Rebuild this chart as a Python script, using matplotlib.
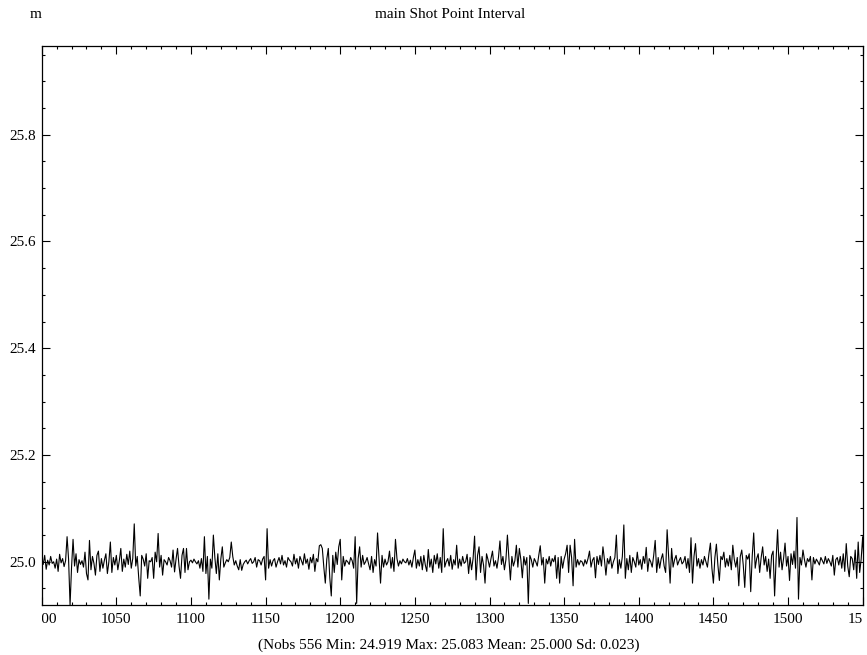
import numpy as np
import matplotlib
matplotlib.use('Agg')
import matplotlib.pyplot as plt
from matplotlib.ticker import MultipleLocator
from matplotlib.transforms import Bbox, TransformedBbox

plt.rcParams['font.family'] = ['Liberation Serif', 'DejaVu Serif']

# shot point numbers and interval deviation from 25 m (in mm)
shot_start = 1000
dev_mm = [
    8, -5, 12, -14, 3, -6, 10, -3, 0, -12, 5, -18, 14, -2, 6, -9, 2, 47, 5, -81,
    -10, 42, -8, 15, -20, 4, -5, 2, -10, 18, -22, -34, 40, -15, 10, -3, -25, 12, 20, -18,
    6, -12, 3, 15, -22, 0, 37, -20, 8, -6, 12, -15, 2, 25, -18, 5, -10, 14, -5, 20,
    -12, 6, 71, -8, 10, -30, -64, 12, 5, -8, 15, -31, 2, 0, 8, -31, 18, 0, 53, -10,
    12, -25, 4, 0, -6, 8, 2, -10, 22, -19, 5, 25, -8, -31, 12, 25, -20, 25, -15, 0,
    3, -2, 5, 0, -4, 2, -12, 6, -18, 47, -22, 10, -70, 5, -12, 50, 8, -22, 15, -34,
    5, 28, -10, -2, 4, 0, 8, 37, 10, -6, 2, -8, -15, 4, -16, -5, 0, 3, -4, 2,
    6, -3, 0, 8, -10, 4, 2, -6, 5, 10, -34, 62, -12, 4, -8, 2, 6, -10, 0, 8,
    -4, 12, -6, 2, -10, 8, 3, 0, -8, 14, -4, 6, -12, 10, 2, -6, 15, -3, 5, -14,
    8, -2, 14, -18, 6, 0, 30, 32, 25, -10, -40, 5, 25, -30, -64, 12, -20, 18, -5, 28,
    42, -34, 10, -8, 3, 0, -5, 8, 2, -12, 47, -78, 6, 28, -10, 12, -5, 0, 8, -4,
    -15, 10, -20, 4, -8, 54, 6, -40, 12, -10, 5, -6, 0, 20, -12, 8, -18, 42, 6, -8,
    2, -4, 5, 0, -2, 6, -6, 3, -10, 8, 22, -12, 4, -8, 10, -15, 12, -6, -18, 23,
    -10, 5, -20, 12, -4, 15, -12, 8, -20, 62, -10, 0, 6, -8, 12, -14, 4, -6, 31, -12,
    5, -8, 10, -3, 0, 14, -22, 8, -15, 6, 48, -34, 12, 28, -20, 10, -6, -40, 15, 4,
    -10, 6, 20, -8, 2, -12, 8, 39, -5, 10, -15, 4, 50, 6, -34, 10, -8, 2, 31, -10,
    25, 4, -30, 10, -6, 8, -78, 12, 4, -10, 6, 0, -8, 12, 30, -6, 8, -40, 5, -4,
    10, -8, 6, 0, 12, -31, 8, -40, 10, -12, 5, 15, 31, -20, 31, 8, -45, 42, -10, 4,
    -6, 2, 0, -8, 4, -4, 6, 20, -10, 3, 8, -30, 10, -5, 12, -8, 28, 4, -25, 6,
    -4, 10, -12, 0, 8, 50, -22, 4, -12, 10, 69, -31, 6, -15, 12, -20, 8, 0, -10, 18,
    -6, 4, -14, 10, -3, 27, -18, 6, 0, -10, 12, 40, -20, 8, -12, 5, 15, -8, -20, 60,
    10, -40, 25, -10, 4, 12, -6, 2, 8, -4, 0, 10, -12, 6, -20, 45, -40, 10, 34, -8,
    6, -12, 4, -6, 10, 0, -10, 15, 35, -12, -40, 8, 33, -6, -35, 10, 4, 18, -10, 6,
    -8, 12, -15, 31, 4, -10, 8, -45, 10, 22, -6, -48, 12, 5, 15, -56, 10, 54, -12, 6,
    15, -20, 8, 28, -6, 10, -18, 5, -31, 12, 20, -64, 4, 60, -10, 18, -15, 6, 35, -8,
    10, -35, 15, -5, 20, -12, 83, -70, 8, -6, 22, 4, -10, 6, 0, 10, -34, 8, -4, 5,
    0, -6, 8, 2, -4, 10, -3, 6, 0, -8, 12, -25, 4, 8, -6, 10, -12, 15, -18, 34,
    -8, -28, 10, 6, -15, 22, -31, 37, -20, 5, 47, -10, 18, -14, 6, 0,
]
nominal = 25.0
stats_text = '(Nobs 556 Min: 24.919 Max: 25.083 Mean: 25.000 Sd: 0.023)'
yticks = [25.0, 25.2, 25.4, 25.6, 25.8]

shot = shot_start + np.arange(len(dev_mm))
interval = nominal + np.array(dev_mm) / 1000.0

fig = plt.figure(figsize=(8.67, 6.55), dpi=100)
ax = fig.add_axes([0.0481, 0.0763, 0.9469, 0.8542])
ax.plot(shot, interval, color='black', lw=0.8)

ax.set_xlim(1000, 1550)
ax.set_ylim(24.919, 25.967)
ax.set_xticks(np.arange(1000, 1551, 50))
ax.set_yticks(yticks)
ax.set_yticklabels(['%.1f' % v for v in yticks])
ax.xaxis.set_minor_locator(MultipleLocator(10))
ax.yaxis.set_minor_locator(MultipleLocator(0.05))
ax.tick_params(which='both', direction='in', top=True, right=True, width=0.8,
               labelsize=11, colors='black')
ax.tick_params(which='major', length=5.5)
ax.tick_params(which='minor', length=2.5)
ax.tick_params(axis='x', pad=6)
ax.tick_params(axis='y', pad=4)
for sp in ax.spines.values():
    sp.set_linewidth(0.9)

# tick labels at the ends get cut at the frame edges
clip = TransformedBbox(Bbox([[0, -1], [1, 0]]), ax.transAxes)
for t in ax.xaxis.get_major_ticks():
    t.label1.set_clip_box(clip)
    t.label1.set_clip_on(True)

fig.text(35.5 / 867, 1 - 15 / 655, 'm', ha='center', va='center', fontsize=11)
fig.text(450 / 867, 1 - 15 / 655, 'main Shot Point Interval', ha='center', va='center', fontsize=11)
fig.text(449 / 867, 1 - 645 / 655, stats_text, ha='center', va='center', fontsize=11)

fig.savefig('out.png', dpi=100)
